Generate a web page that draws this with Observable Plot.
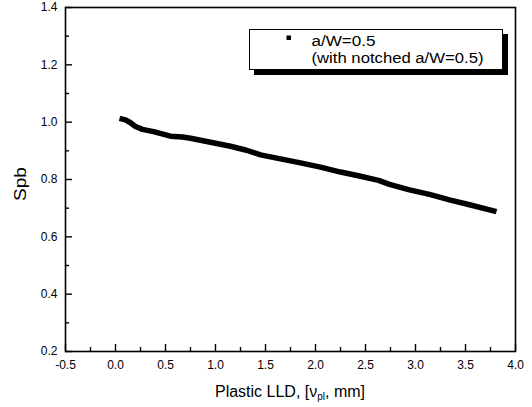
<!DOCTYPE html>
<html>
<head>
<meta charset="utf-8">
<script src="https://cdn.jsdelivr.net/npm/d3@7"></script>
<script src="https://cdn.jsdelivr.net/npm/@observablehq/plot@0.6"></script>
<style>
  html, body { margin: 0; padding: 0; background: #fff; }
  #chart { width: 532px; height: 407px; }
</style>
</head>
<body>
<div id="chart"></div>
<script>
// Data
const plasticLLD = [0.04, 0.10, 0.15, 0.20, 0.27, 0.38, 0.55, 0.67, 0.75, 0.95, 1.15, 1.31, 1.45, 1.65, 1.85, 2.05, 2.25, 2.44, 2.63, 2.74, 2.94, 3.14, 3.34, 3.54, 3.81];
const spb        = [1.013, 1.008, 0.998, 0.985, 0.975, 0.967, 0.951, 0.948, 0.944, 0.930, 0.916, 0.902, 0.886, 0.872, 0.858, 0.843, 0.826, 0.812, 0.797, 0.783, 0.764, 0.748, 0.729, 0.712, 0.688];

const xTicks = [-0.5, 0.0, 0.5, 1.0, 1.5, 2.0, 2.5, 3.0, 3.5, 4.0];
const xTickLabels = ["-0.5", "0.0", "0.5", "1.0", "1.5", "2.0", "2.5", "3.0", "3.5", "4.0"];
const xMinorTicks = [-0.25, 0.25, 0.75, 1.25, 1.75, 2.25, 2.75, 3.25, 3.75];
const yTicks = [0.2, 0.4, 0.6, 0.8, 1.0, 1.2, 1.4];
const yTickLabels = ["0.2", "0.4", "0.6", "0.8", "1.0", "1.2", "1.4"];
const yMinorTicks = [0.3, 0.5, 0.7, 0.9, 1.1, 1.3];

const seriesLabel1 = "a/W=0.5";
const seriesLabel2 = "(with notched a/W=0.5)";
const yTitle = "Spb";

const data = plasticLLD.map((x, i) => ({x, y: spb[i]}));
const font = "'Liberation Sans', Arial, sans-serif";

const W = 532, H = 407, mL = 65, mR = 17, mT = 7, mB = 56;
const innerW = W - mL - mR, innerH = H - mT - mB;

const plot = Plot.plot({
  width: W,
  height: H,
  marginLeft: mL,
  marginRight: mR,
  marginTop: mT,
  marginBottom: mB,
  style: {fontFamily: font, fontSize: "12px", color: "#000", background: "#fff"},
  x: {domain: [-0.5, 4.0], label: null},
  y: {domain: [0.2, 1.4], label: null},
  marks: [
    Plot.line(data, {x: "x", y: "y", stroke: "#000", strokeWidth: 5.5, strokeLinecap: "butt", strokeLinejoin: "round"}),
    // inward tick marks along bottom and left edges
    Plot.tickX(xTicks, {x: d => d, insetTop: innerH - 7, stroke: "#000", strokeWidth: 1.4}),
    Plot.tickX(xMinorTicks, {x: d => d, insetTop: innerH - 4, stroke: "#000", strokeWidth: 1.4}),
    Plot.tickY(yTicks, {y: d => d, insetRight: innerW - 7, stroke: "#000", strokeWidth: 1.4}),
    Plot.tickY(yMinorTicks, {y: d => d, insetRight: innerW - 4, stroke: "#000", strokeWidth: 1.4}),
    // tick labels
    Plot.axisX(xTicks, {anchor: "bottom", tickSize: 0, tickPadding: 9, tickFormat: (d, i) => xTickLabels[i], label: null, fontSize: 12}),
    Plot.axisY(yTicks, {anchor: "left", tickSize: 0, tickPadding: 8, tickFormat: (d, i) => yTickLabels[i], label: null, fontSize: 12}),
    Plot.frame({stroke: "#000", strokeWidth: 1.6})
  ]
});

document.getElementById("chart").appendChild(plot);

const svg = d3.select(plot);
const xs = plot.scale("x");

// x-axis title with subscript
const xt = svg.append("text")
  .attr("x", (xs.range[0] + xs.range[1]) / 2)
  .attr("y", 397)
  .attr("text-anchor", "middle")
  .attr("font-family", font)
  .attr("font-size", 16)
  .attr("fill", "#000");
xt.append("tspan").text("Plastic LLD, [\u03BD");
xt.append("tspan").attr("font-size", 10).attr("dy", 3).text("pl");
xt.append("tspan").attr("dy", -3).text(", mm]");

// y-axis title
svg.append("text")
  .attr("transform", `translate(26,184) rotate(-90)`)
  .attr("text-anchor", "middle")
  .attr("font-family", font)
  .attr("font-size", 16)
  .attr("textLength", 34)
  .attr("lengthAdjust", "spacingAndGlyphs")
  .attr("fill", "#000")
  .text(yTitle);

// legend
const lg = svg.append("g").attr("text-anchor", "start");
lg.append("rect").attr("x", 254).attr("y", 34).attr("width", 254).attr("height", 41).attr("fill", "#000");
lg.append("rect").attr("x", 249.5).attr("y", 29.5).attr("width", 253).attr("height", 40).attr("fill", "#fff").attr("stroke", "#000").attr("stroke-width", 1);
lg.append("rect").attr("x", 286.5).attr("y", 35.5).attr("width", 4.5).attr("height", 4.5).attr("fill", "#000");
lg.append("text").attr("x", 311.5).attr("y", 46).attr("text-anchor", "start").attr("font-family", font).attr("font-size", 14)
  .attr("textLength", 64).attr("lengthAdjust", "spacingAndGlyphs").attr("fill", "#000").text(seriesLabel1);
lg.append("text").attr("x", 311.5).attr("y", 63).attr("text-anchor", "start").attr("font-family", font).attr("font-size", 14)
  .attr("textLength", 172).attr("lengthAdjust", "spacingAndGlyphs").attr("fill", "#000").text(seriesLabel2);
</script>
</body>
</html>
